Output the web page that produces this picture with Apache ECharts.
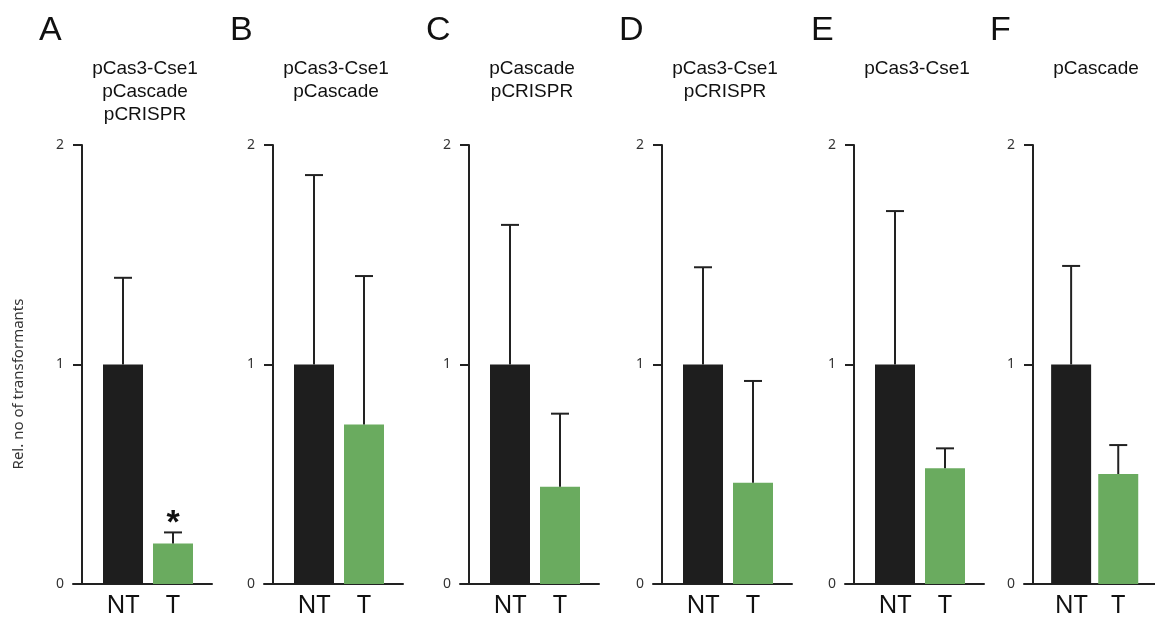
<!DOCTYPE html>
<html>
<head>
<meta charset="utf-8">
<script src="https://cdn.jsdelivr.net/npm/echarts@6.0.0/dist/echarts.min.js"></script>
<style>
  html, body { margin: 0; padding: 0; background: #fff; }
  #chart { width: 1155px; height: 620px; }
</style>
</head>
<body>
<div id="chart"></div>
<script>
// data
const panelLetters = ['A', 'B', 'C', 'D', 'E', 'F'];
const panelTitles = [
  'pCas3-Cse1\npCascade\npCRISPR',
  'pCas3-Cse1\npCascade',
  'pCascade\npCRISPR',
  'pCas3-Cse1\npCRISPR',
  'pCas3-Cse1',
  'pCascade'
];
const groups = ['NT', 'T'];
const ntMean = [1, 1, 1, 1, 1, 1];
const ntErr = [0.395, 0.863, 0.636, 0.443, 0.699, 0.449];
const tMean = [0.185, 0.727, 0.443, 0.461, 0.527, 0.501];
const tErr = [0.05, 0.676, 0.333, 0.464, 0.091, 0.132];
const sigMarks = ['*', '', '', '', '', ''];
const yTicks = [0, 1, 2];
const yName = 'Rel. no of transformants';

// layout
const axisX = [82, 273, 469, 662, 854, 1033];
const tickLen = 9;
const plotTop = 145;
const plotBottom = 36;
const barColors = ['#1e1e1e', '#6aab5f'];
const ink = '#222';
const labelFont = '"Noto Sans", "Open Sans", sans-serif';
const titleFont = '"Liberation Sans", Arial, sans-serif';

const grid = [], xAxis = [], yAxis = [], series = [], graphic = [];

axisX.forEach((ax, i) => {
  grid.push({ left: ax - tickLen, top: plotTop, width: 139, bottom: plotBottom });

  xAxis.push({
    gridIndex: i,
    type: 'value',
    min: 0,
    max: 2.78,
    interval: 1,
    axisLine: { show: true, lineStyle: { color: ink, width: 2 } },
    axisTick: { show: false },
    splitLine: { show: false },
    axisLabel: {
      margin: 9,
      fontSize: 25,
      fontFamily: labelFont,
      color: '#111',
      showMaxLabel: false,
      formatter: v => groups[v - 1] || ''
    }
  });

  yAxis.push({
    gridIndex: i,
    type: 'value',
    min: yTicks[0],
    max: yTicks[yTicks.length - 1],
    interval: 1,
    offset: -tickLen,
    axisLine: { show: true, lineStyle: { color: ink, width: 2 } },
    axisTick: { show: true, length: tickLen, lineStyle: { color: ink, width: 2 } },
    splitLine: { show: false },
    axisLabel: { margin: 18, fontSize: 14, fontFamily: labelFont, color: '#333' }
  });

  series.push({
    type: 'bar',
    xAxisIndex: i,
    yAxisIndex: i,
    barWidth: 40,
    data: [
      { value: [1, ntMean[i]], itemStyle: { color: barColors[0] } },
      { value: [2, tMean[i]], itemStyle: { color: barColors[1] } }
    ]
  });

  series.push({
    type: 'custom',
    xAxisIndex: i,
    yAxisIndex: i,
    z: 5,
    data: [[1, ntMean[i], ntErr[i]], [2, tMean[i], tErr[i]]],
    renderItem: function (params, api) {
      const x = api.value(0);
      const mean = api.value(1);
      const top = mean + api.value(2);
      const p0 = api.coord([x, mean]);
      const p1 = api.coord([x, top]);
      const st = { stroke: ink, lineWidth: 2 };
      const children = [
        { type: 'line', shape: { x1: p0[0], y1: p0[1], x2: p1[0], y2: p1[1] }, style: st },
        { type: 'line', shape: { x1: p1[0] - 9, y1: p1[1], x2: p1[0] + 9, y2: p1[1] }, style: st }
      ];
      // significance star above the error cap
      if (params.dataIndex === 1 && sigMarks[i]) {
        children.push({
          type: 'text',
          x: p1[0],
          y: p1[1] - 9,
          style: {
            text: sigMarks[i],
            font: 'bold 34px ' + titleFont,
            fill: '#111',
            textAlign: 'center',
            textVerticalAlign: 'middle'
          }
        });
      }
      return { type: 'group', children: children };
    }
  });

  // panel letter
  graphic.push({
    type: 'text',
    left: ax - 43,
    top: 14,
    style: { text: panelLetters[i], font: '34px ' + titleFont, fill: '#111' }
  });

  // plasmid combination label
  graphic.push({
    type: 'text',
    x: ax + 63,
    y: 57,
    style: {
      text: panelTitles[i],
      font: '19px ' + titleFont,
      lineHeight: 23,
      fill: '#111',
      textAlign: 'center',
      textVerticalAlign: 'top'
    }
  });
});

graphic.push({
  type: 'text',
  x: 19,
  y: 384,
  rotation: Math.PI / 2,
  style: {
    text: yName,
    font: '15px ' + labelFont,
    fill: '#333',
    textAlign: 'center',
    textVerticalAlign: 'middle'
  }
});

const myChart = echarts.init(document.getElementById('chart'));
myChart.setOption({
  animation: false,
  backgroundColor: '#fff',
  grid: grid,
  xAxis: xAxis,
  yAxis: yAxis,
  series: series,
  graphic: graphic
});
</script>
</body>
</html>
